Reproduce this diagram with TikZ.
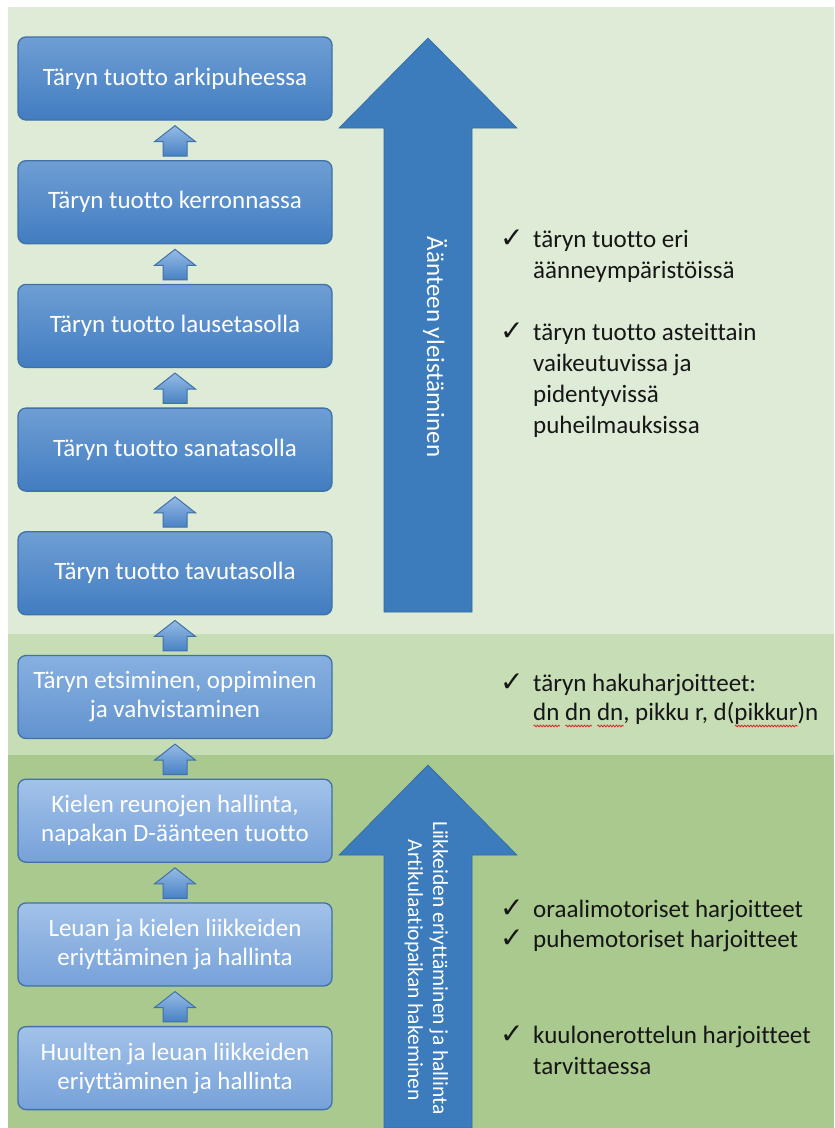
\documentclass[tikz,border=0pt]{standalone}
\usepackage{fontspec}
\setmainfont{Carlito}[Ligatures=NoCommon]
\newfontfamily\symfont{DejaVu Sans}
\usetikzlibrary{calc,decorations.pathmorphing}

\definecolor{bgA}{RGB}{222,235,214}
\definecolor{bgB}{RGB}{198,221,181}
\definecolor{bgC}{RGB}{169,201,142}
\definecolor{boxline}{RGB}{65,113,165}
\definecolor{bAt}{RGB}{110,158,212}
\definecolor{bAb}{RGB}{66,125,193}
\definecolor{bBt}{RGB}{135,176,224}
\definecolor{bBb}{RGB}{98,147,207}
\definecolor{bCt}{RGB}{162,194,233}
\definecolor{bCb}{RGB}{118,161,217}
\definecolor{sat}{RGB}{150,187,230}
\definecolor{sab}{RGB}{72,130,196}
\definecolor{bigarrow}{RGB}{60,124,188}
\definecolor{dark}{RGB}{22,22,22}
\definecolor{squigred}{RGB}{215,40,40}

\newlength\sqwidth
\newcommand\squig[1]{\settowidth\sqwidth{#1}\rlap{\tikz[baseline=0pt]\draw[squigred,line width=0.8pt,decorate,decoration={snake,amplitude=0.9pt,segment length=3pt}] (0pt,-6pt) -- (\sqwidth,-6pt);}#1}

\begin{document}
\begin{tikzpicture}[x=1pt,y=-1pt,
  box/.style={draw=boxline,line width=1.3pt,rounded corners=8pt,minimum width=314pt,minimum height=83pt,
    align=center,text=white,font=\fontsize{25}{29}\selectfont,inner sep=0pt},
  boxA/.style={box,top color=bAt,bottom color=bAb},
  boxB/.style={box,top color=bBt,bottom color=bBb},
  boxC/.style={box,top color=bCt,bottom color=bCb},
  smallarr/.style={draw=boxline,line width=1pt,top color=sat,bottom color=sab,line join=miter},
  bigarr/.style={fill=bigarrow,draw=bigarrow!85!black,line width=0.6pt},
  rtext/.style={anchor=base west,inner sep=0pt,text=dark,font=\fontsize{25}{31}\selectfont},
  chk/.style={anchor=base west,inner sep=0pt,text=dark,font=\symfont\fontsize{28}{30}\selectfont},
  atext/.style={rotate=-90,anchor=base,inner sep=0pt,text=white}
]
\useasboundingbox (0,0) rectangle (835,1128);
\fill[white] (0,0) rectangle (835,1128);
\fill[bgA] (8,7) rectangle (834,634);
\fill[bgB] (8,634) rectangle (834,755);
\fill[bgC] (8,755) rectangle (834,1128);

% big arrows
\path[bigarr] (428,38) -- (517,128) -- (472,128) -- (472,612) -- (384,612) -- (384,128) -- (339,128) -- cycle;
\path[bigarr] (428,765) -- (517,855) -- (472,855) -- (472,1128) -- (384,1128) -- (384,855) -- (339,855) -- cycle;
\node[atext,font=\fontsize{25}{30}\selectfont] (t1) at (427,347) {Äänteen yleistäminen};
\node[atext,font=\fontsize{21.5}{25}\selectfont] (t2) at (433,968) {Liikkeiden eriyttäminen ja hallinta};
\node[atext,font=\fontsize{21.5}{25}\selectfont] (t3) at (408,970) {Artikulaatiopaikan hakeminen};

% boxes
\node[boxA] (b1) at (175,78.5) {Täryn tuotto arkipuheessa};
\node[boxA] (b2) at (175,202.2) {Täryn tuotto kerronnassa};
\node[boxA] (b3) at (175,325.9) {Täryn tuotto lausetasolla};
\node[boxA] (b4) at (175,449.6) {Täryn tuotto sanatasolla};
\node[boxA] (b5) at (175,573.3) {Täryn tuotto tavutasolla};
\node[boxB] (b6) at (175,697) {Täryn etsiminen, oppiminen\\ja vahvistaminen};
\node[boxC] (b7) at (175,820.7) {Kielen reunojen hallinta,\\napakan D-äänteen tuotto};
\node[boxC] (b8) at (175,944.4) {Leuan ja kielen liikkeiden\\eriyttäminen ja hallinta};
\node[boxC] (b9) at (175,1068.1) {Huulten ja leuan liikkeiden\\eriyttäminen ja hallinta};

% small block arrows
\foreach \a/\b in {b2/b1,b3/b2,b4/b3,b5/b4,b6/b5,b7/b6,b8/b7,b9/b8}{
  \path[smallarr] ($(\a.north)+(-12,-4)$) -- ($(\b.south)+(-12,21)$) -- ($(\b.south)+(-20.5,21)$)
    -- ($(\b.south)+(0,5)$) -- ($(\b.south)+(20.5,21)$) -- ($(\b.south)+(12,21)$)
    -- ($(\a.north)+(12,-4)$) -- cycle;
}

% right texts
\node[chk] (c1) at (500,247) {✓};
\node[rtext] (r1) at (533,247) {täryn tuotto eri};
\node[rtext] (r1b) at (533,278) {äänneympäristöissä};
\node[chk] (c2) at (500,340) {✓};
\node[rtext] (r2) at (533,340) {täryn tuotto asteittain};
\node[rtext] (r2b) at (533,371) {vaikeutuvissa ja};
\node[rtext] (r2c) at (533,402) {pidentyvissä};
\node[rtext] (r2d) at (533,433) {puheilmauksissa};
\node[chk] (c3) at (500,691) {✓};
\node[rtext] (r3) at (533,691) {täryn hakuharjoitteet:};
\node[rtext] (r3b) at (533,720) {\squig{dn} \squig{dn} \squig{dn}, pikku r, d(\squig{pikkur})n};
\node[chk] (c4) at (500,917) {✓};
\node[rtext] (r4) at (533,917) {oraalimotoriset harjoitteet};
\node[chk] (c5) at (500,947) {✓};
\node[rtext] (r5) at (533,947) {puhemotoriset harjoitteet};
\node[chk] (c6) at (500,1043) {✓};
\node[rtext] (r6) at (533,1043) {kuulonerottelun harjoitteet};
\node[rtext] (r6b) at (533,1074) {tarvittaessa};
\end{tikzpicture}
\end{document}
